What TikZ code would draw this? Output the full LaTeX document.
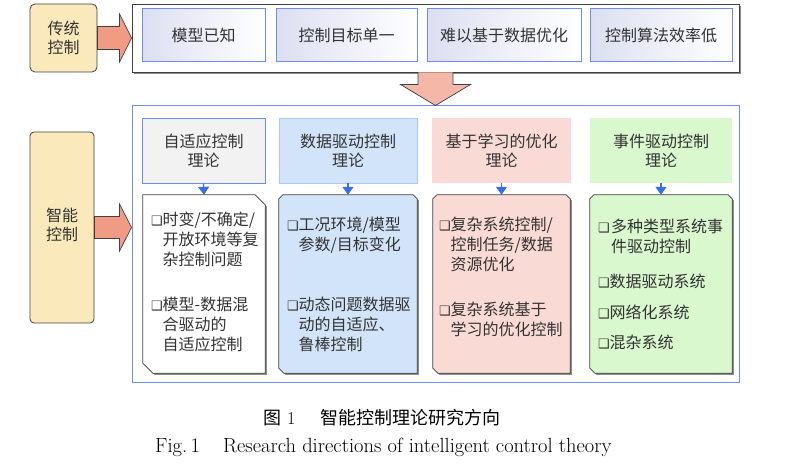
\documentclass[tikz,border=0pt]{standalone}
\usepackage{fontspec}
\newfontfamily\cjk{Noto Sans CJK SC}
\newfontfamily\djv{DejaVu Sans}
\usetikzlibrary{calc,arrows.meta}
\definecolor{txt}{HTML}{333333}
\definecolor{yel}{HTML}{FAE9BA}
\definecolor{fat}{HTML}{F29B84}
\definecolor{fatl}{HTML}{F5B8A8}
\definecolor{bord}{HTML}{404040}
\definecolor{shd}{HTML}{8C8C8C}
\definecolor{bl}{HTML}{6A8EF0}
\definecolor{bll}{HTML}{A9C8F4}
\definecolor{arr}{HTML}{3A6EF0}
\definecolor{gry}{HTML}{F2F2F2}
\definecolor{lbl}{HTML}{D2E4FA}
\definecolor{pnk}{HTML}{FADAD4}
\definecolor{grn}{HTML}{D9F8CD}
\definecolor{lav}{HTML}{DCDFF1}
\newcommand\bx{\makebox[11.5pt][l]{\djv\fontsize{13}{13}\selectfont\raisebox{0.5pt}{❑}}}
\newcommand\ind{\hspace*{11.5pt}}
% chamfered box: name, fill, tl, tr, bl
\newcommand\chbox[5]{%
  \path[fill=shd,transform canvas={shift={(1.6,1.6)}}]
    ($(#1.north west)+(#3,0)$) -- ($(#1.north east)+(-#4,0)$) -- ($(#1.north east)+(0,#4)$)
    -- (#1.south east) -- ($(#1.south west)+(#5,0)$) -- ($(#1.south west)+(0,-#5)$)
    -- ($(#1.north west)+(0,#3)$) -- cycle;
  \path[fill=#2,draw=bord,line width=0.8pt]
    ($(#1.north west)+(#3,0)$) -- ($(#1.north east)+(-#4,0)$) -- ($(#1.north east)+(0,#4)$)
    -- (#1.south east) -- ($(#1.south west)+(#5,0)$) -- ($(#1.south west)+(0,-#5)$)
    -- ($(#1.north west)+(0,#3)$) -- cycle;}
\begin{document}
\begin{tikzpicture}[x=1pt,y=-1pt,
  font=\cjk\fontsize{16}{20}\selectfont, text=txt,
  lab/.style={draw=bord,line width=0.8pt,fill=yel,rounded corners=5pt,inner sep=0pt},
  tbox/.style={draw=bl,line width=1pt,left color=lav,right color=white,inner sep=0pt,minimum height=53pt},
  hdr/.style={inner sep=0pt,minimum height=65pt,align=center,font=\cjk\fontsize{16}{19}\selectfont},
  cb/.style={inner sep=0pt,minimum height=178pt},
  item/.style={anchor=north west,inner sep=0pt,align=left},
  fatarrow/.style={draw=bord,line width=0.7pt,fill=fat},
  small/.style={draw=arr,line width=1.2pt,-{Triangle[width=11pt,length=8pt]}}]
\useasboundingbox (0,0) rectangle (786,468);
% ---------- top row ----------
\node[lab,minimum width=67pt,minimum height=68pt,align=center,font=\cjk\fontsize{16}{19}\selectfont] (trad) at (63.5,38) {传统\\控制};
\fill[shd] (134,6) rectangle (741,74);
\node[draw=bord,line width=0.9pt,fill=white,minimum width=607pt,minimum height=68pt,inner sep=0pt] (topbox) at (435.5,38) {};
\node[tbox,minimum width=123pt] (t1) at (203.5,35.5) {模型已知};
\node[tbox,minimum width=141pt] (t2) at (346.5,35.5) {控制目标单一};
\node[tbox,minimum width=154pt] (t3) at (504,35.5) {难以基于数据优化};
\node[tbox,minimum width=142pt] (t4) at (661,35.5) {控制算法效率低};
% fat arrow trad -> topbox
\coordinate (a1s) at (trad.east);
\coordinate (a1e) at (topbox.west |- trad.east);
\draw[fatarrow] ($(a1s)+(0,-11.5)$) -- ($(a1e)+(-12,-11.5)$) -- ($(a1e)+(-12,-24)$) -- (a1e)
  -- ($(a1e)+(-12,24)$) -- ($(a1e)+(-12,11.5)$) -- ($(a1s)+(0,11.5)$) -- cycle;
% ---------- lower part ----------
\node[draw=bl,line width=1pt,minimum width=607pt,minimum height=276pt,inner sep=0pt] (lowbox) at (435.5,244) {};
\node[lab,minimum width=64pt,minimum height=191pt,rounded corners=4pt] (intel) at (62,227.5) {};
\node[align=center,font=\cjk\fontsize{16}{19}\selectfont,inner sep=0pt] (intelt) at (62,224.5) {智能\\控制};
% down arrow topbox -> lowbox
\coordinate (d1s) at (topbox.south);
\coordinate (d1e) at (lowbox.north);
\draw[draw=bord,line width=0.7pt,fill=fatl] ($(d1s)+(-17.5,0)$) -- ($(d1e)+(-17.5,-21)$) -- ($(d1e)+(-35,-21)$) -- (d1e)
  -- ($(d1e)+(35,-21)$) -- ($(d1e)+(17.5,-21)$) -- ($(d1s)+(17.5,0)$);
% fat arrow intel -> lowbox
\coordinate (a2s) at (intel.east);
\coordinate (a2e) at (lowbox.west |- intel.east);
\draw[fatarrow] ($(a2s)+(0,-11)$) -- ($(a2e)+(-12,-11)$) -- ($(a2e)+(-12,-23.5)$) -- (a2e)
  -- ($(a2e)+(-12,23.5)$) -- ($(a2e)+(-12,11)$) -- ($(a2s)+(0,11)$) -- cycle;
% headers
\node[hdr,draw=bl,line width=1pt,fill=gry,minimum width=123pt] (h1) at (203.5,150.5) {自适应控制\\理论};
\node[hdr,draw=bll,line width=0.8pt,fill=lbl,minimum width=138pt] (h2) at (348,150.5) {数据驱动控制\\理论};
\node[hdr,fill=pnk,minimum width=139pt] (h3) at (501.5,150.5) {基于学习的优化\\理论};
\node[hdr,fill=grn,minimum width=142pt] (h4) at (661,150.5) {事件驱动控制\\理论};
% content boxes
\node[cb,minimum width=122pt] (c1) at (204,284) {};
\node[cb,minimum width=138pt] (c2) at (348,284) {};
\node[cb,minimum width=137pt] (c3) at (501.5,284) {};
\node[cb,minimum width=142pt] (c4) at (661,284) {};
\chbox{c1}{white}{0}{10}{10}
\chbox{c2}{lbl}{4}{4}{5}
\chbox{c3}{pnk}{4}{4}{5}
\chbox{c4}{grn}{4}{4}{5}
% small arrows
\draw[small] (h1.south) -- (c1.north);
\draw[small] (h2.south) -- (c2.north);
\draw[small] (h3.south) -- (c3.north);
\draw[small] (h4.south) -- (c4.north);
% items
\node[item] (i11) at (151,212) {\bx 时变/不确定/\\\ind 开放环境等复\\\ind 杂控制问题};
\node[item] (i12) at (151,297) {\bx 模型-数据混\\\ind 合驱动的\\\ind 自适应控制};
\node[item] (i21) at (287,217) {\bx 工况环境/模型\\\ind 参数/目标变化};
\node[item] (i22) at (287,297) {\bx 动态问题数据驱\\\ind 动的自适应、\\\ind 鲁棒控制};
\node[item] (i31) at (439,217) {\bx 复杂系统控制/\\\ind 控制任务/数据\\\ind 资源优化};
\node[item] (i32) at (439,302) {\bx 复杂系统基于\\\ind 学习的优化控制};
\node[item] (i41) at (598,219) {\bx\hspace{1.5pt}多种类型系统事\\\ind\hspace{1.5pt}件驱动控制};
\node[item] (i42) at (598,274) {\bx 数据驱动系统};
\node[item] (i43) at (598,305) {\bx 网络化系统};
\node[item] (i44) at (598,335) {\bx 混杂系统};
% caption
\node[anchor=base west,inner sep=0pt,text=black,font=\fontsize{18}{18}\selectfont] (cap1) at (263,424) {{\cjk 图}\hspace{6pt}1\hspace{25pt}{\cjk 智能控制理论研究方向}};
\node[anchor=base west,inner sep=0pt,text=black,font=\fontsize{20.5}{21}\selectfont] (cap2a) at (155,452) {Fig.\,1};
\node[anchor=base west,inner sep=0pt,text=black,font=\fontsize{20.5}{21}\selectfont] (cap2b) at (223,452) {Research directions of intelligent control theory};
\end{tikzpicture}
\end{document}
